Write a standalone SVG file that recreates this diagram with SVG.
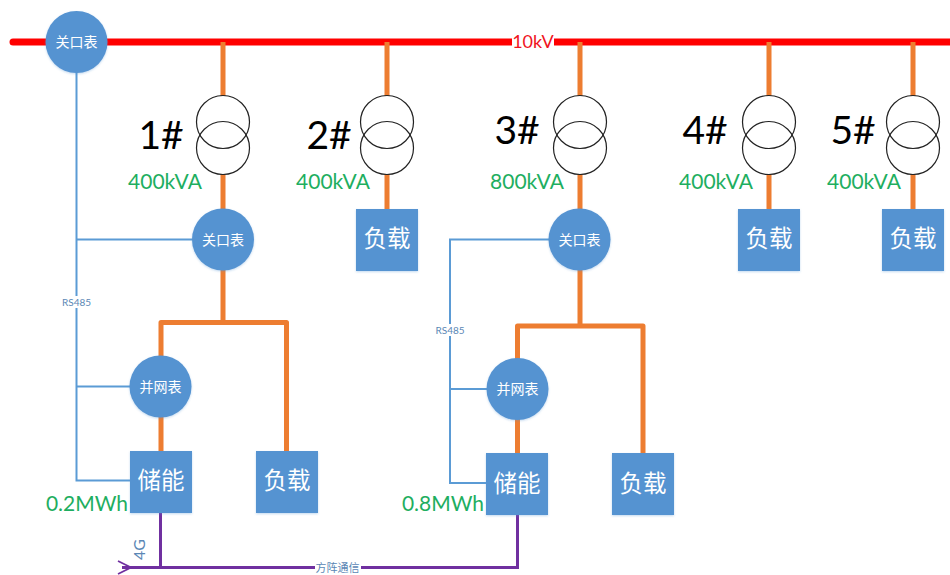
<svg xmlns="http://www.w3.org/2000/svg" width="950" height="575" viewBox="0 0 950 575">
<style>
text{font-family:"Lato","Noto Sans CJK SC",sans-serif;text-anchor:middle}
.cjk{font-family:"Noto Sans CJK SC",sans-serif}
.bus{stroke:#ff0000;stroke-width:7;fill:none;stroke-linecap:round}
.pw{stroke:#ed7d31;stroke-width:5;fill:none;stroke-linejoin:round}
.sig{stroke:#5b9bd5;stroke-width:2;fill:none}
.com{stroke:#7030a0;stroke-width:3;fill:none}
.arr{stroke:#7030a0;stroke-width:1.8;fill:none}
.fill{fill:#5593d1;filter:url(#s)}
.m{fill:#fff;font-size:14px}
.b{fill:#fff;font-size:23.5px}
.n{fill:#000;font-size:39px}
.g{fill:#1eae60;font-size:21px}
.x{fill:none;stroke:#222;stroke-width:1.2}
.lab{fill:#5b87b5;font-size:10px}
</style>
<defs><filter id="s" x="-10%" y="-10%" width="120%" height="120%"><feDropShadow dx="0" dy="1" stdDeviation="1" flood-color="#5593d1" flood-opacity=".35"/></filter></defs>
<g id="connectors">
<path class="bus" d="M13 42H950"/>
<path class="pw" d="M223 42V96M223 174V322.500M161 386V322.500H286.500V451M161 386V451"/>
<path class="pw" d="M387 42V96M387 174V209"/>
<path class="pw" d="M580 42V96M580 174V326M517.500 389V326H643V453M517.500 389V453"/>
<path class="pw" d="M769 42V96M769 174V209"/>
<path class="pw" d="M913 42V96M913 174V209"/>
<path class="sig" d="M76.500 72V480.500H130M76.500 239.500H192M76.500 386.500H130"/>
<path class="sig" d="M549 239.500H450V483H486M450 389H487"/>
<path class="com" d="M160.500 512V567.500M122 567.500H517.500V515"/>
<path class="arr" d="M118 561L131 567.500L118 574"/>
</g>
<g id="label-10kv"><rect x="512" y="34" width="42" height="16" fill="#fff"/><text x="533" y="48" fill="#f0141e" font-size="18">10kV</text></g>
<g id="label-rs485-1"><rect x="60" y="296" width="33" height="12" fill="#fff"/><text class="lab" x="76.500" y="306">RS485</text></g>
<g id="label-rs485-2"><rect x="434" y="324" width="33" height="12" fill="#fff"/><text class="lab" x="450" y="334">RS485</text></g>
<g id="label-4g"><text x="0" y="0" fill="#5b87b5" font-size="16" style="text-anchor:start" transform="translate(145,560) rotate(-90)">4G</text></g>
<g id="label-array"><rect x="315" y="561" width="46" height="13" fill="#fff"/><text class="cjk" x="337.500" y="572" fill="#5b87b5" font-size="11">方阵通信</text></g>

<g id="meter-main"><circle class="fill" cx="76.500" cy="42" r="31"/><text class="m cjk" x="76.500" y="47">关口表</text></g>
<g id="t1"><circle class="x" cx="223" cy="122" r="26.500"/><circle class="x" cx="223" cy="148" r="26.500"/><text class="n" x="161" y="149">1#</text><text class="g" x="165" y="189">400kVA</text></g>
<g id="meter-1"><circle class="fill" cx="223" cy="239.500" r="31"/><text class="m cjk" x="223" y="244.500">关口表</text></g>
<g id="grid-1"><circle class="fill" cx="160.500" cy="386.500" r="31"/><text class="m cjk" x="160.500" y="391.500">并网表</text></g>
<g id="storage-1"><rect class="fill" x="130" y="451" width="62" height="62"/><text class="b cjk" x="161" y="489">储能</text><text class="g" x="87" y="511">0.2MWh</text></g>
<g id="load-1"><rect class="fill" x="256" y="451" width="62" height="62"/><text class="b cjk" x="287" y="489">负载</text></g>

<g id="t2"><circle class="x" cx="387" cy="122" r="26.500"/><circle class="x" cx="387" cy="148" r="26.500"/><text class="n" x="329" y="149">2#</text><text class="g" x="333" y="189">400kVA</text></g>
<g id="load-2"><rect class="fill" x="356" y="209" width="62" height="62"/><text class="b cjk" x="387" y="247">负载</text></g>

<g id="t3"><circle class="x" cx="580" cy="122" r="26.500"/><circle class="x" cx="580" cy="148" r="26.500"/><text class="n" x="517" y="144">3#</text><text class="g" x="527" y="189">800kVA</text></g>
<g id="meter-3"><circle class="fill" cx="579.500" cy="239.500" r="31"/><text class="m cjk" x="579.500" y="244.500">关口表</text></g>
<g id="grid-3"><circle class="fill" cx="517.500" cy="389" r="31"/><text class="m cjk" x="517.500" y="394">并网表</text></g>
<g id="storage-3"><rect class="fill" x="486" y="453" width="62" height="62"/><text class="b cjk" x="517" y="492">储能</text><text class="g" x="443" y="511">0.8MWh</text></g>
<g id="load-3"><rect class="fill" x="612" y="453" width="62" height="62"/><text class="b cjk" x="643" y="492">负载</text></g>

<g id="t4"><circle class="x" cx="769" cy="122" r="26.500"/><circle class="x" cx="769" cy="148" r="26.500"/><text class="n" x="705" y="144">4#</text><text class="g" x="716" y="189">400kVA</text></g>
<g id="load-4"><rect class="fill" x="738" y="209" width="62" height="62"/><text class="b cjk" x="769" y="247">负载</text></g>

<g id="t5"><circle class="x" cx="913" cy="122" r="26.500"/><circle class="x" cx="913" cy="148" r="26.500"/><text class="n" x="853" y="144">5#</text><text class="g" x="864" y="189">400kVA</text></g>
<g id="load-5"><rect class="fill" x="882" y="209" width="62" height="62"/><text class="b cjk" x="913" y="247">负载</text></g>
</svg>
